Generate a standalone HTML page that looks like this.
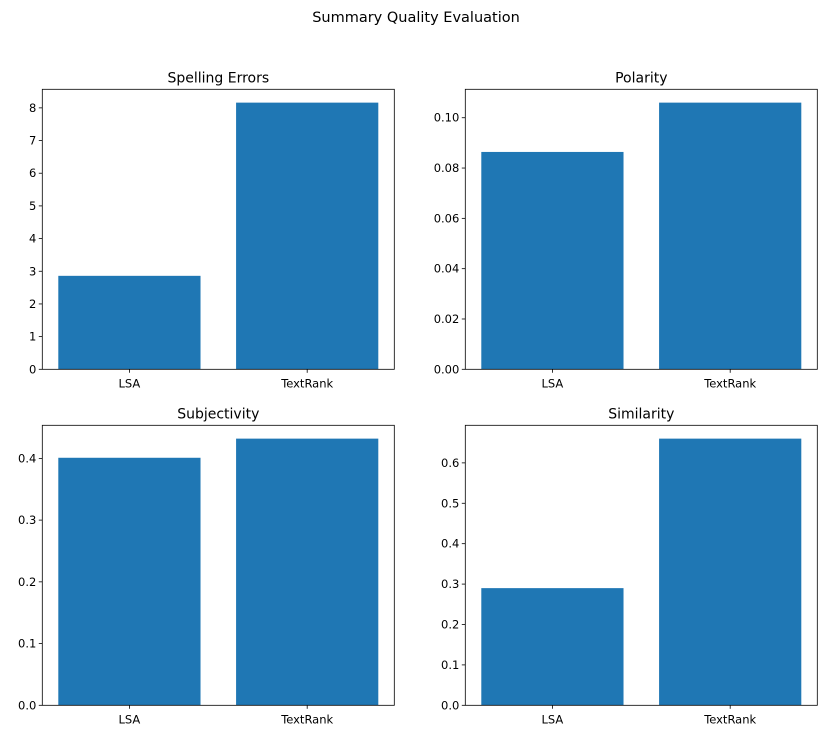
<!DOCTYPE html>
<html><head><meta charset="utf-8"><style>
body{margin:0;background:#fff;}
svg{display:block;font-family:"DejaVu Sans","Liberation Sans",sans-serif;}
</style></head><body>
<svg id="fig" width="826" height="739">
<text x="416" y="22" text-anchor="middle" font-size="14.5">Summary Quality Evaluation</text>
</svg>
<script>
const categories = ["LSA", "TextRank"];
const titles = ["Spelling Errors", "Polarity", "Subjectivity", "Similarity"];
const spellingValues = [2.86, 8.16];
const polarityValues = [0.0864, 0.106];
const subjectivityValues = [0.401, 0.432];
const similarityValues = [0.29, 0.66];
const spellingTicks = ["0","1","2","3","4","5","6","7","8"];
const polarityTicks = ["0.00","0.02","0.04","0.06","0.08","0.10"];
const subjectivityTicks = ["0.0","0.1","0.2","0.3","0.4"];
const similarityTicks = ["0.0","0.1","0.2","0.3","0.4","0.5","0.6"];

const NS = "http://www.w3.org/2000/svg";
const svg = document.getElementById("fig");
function mk(tag, attrs, parent){const e=document.createElementNS(NS,tag);for(const k in attrs)e.setAttribute(k,attrs[k]);(parent||svg).appendChild(e);return e;}

const panels = [
 {vals:spellingValues, ticks:spellingTicks, L:42.3, R:394.3, T:89.3, B:369.3, name:"spelling-errors"},
 {vals:polarityValues, ticks:polarityTicks, L:465.3, R:817.3, T:89.3, B:369.3, name:"polarity"},
 {vals:subjectivityValues, ticks:subjectivityTicks, L:42.3, R:394.3, T:425.3, B:705.3, name:"subjectivity"},
 {vals:similarityValues, ticks:similarityTicks, L:465.3, R:817.3, T:425.3, B:705.3, name:"similarity"}
];

panels.forEach((p, i) => {
  const g = mk("g", {});
  
  
  const ymax = Math.max(...p.vals) * 1.05;
  const y = v => p.B - (v / ymax) * (p.B - p.T);
  const xmin = -0.49, xmax = 1.49;
  const x = v => p.L + (v - xmin) / (xmax - xmin) * (p.R - p.L);
  p.vals.forEach((v, j) => {
    const r = mk("rect", {x:x(j-0.4), y:y(v), width:x(j+0.4)-x(j-0.4), height:p.B-y(v), fill:"#1f77b4"}, g);
    
    
    mk("line", {x1:x(j), x2:x(j), y1:p.B, y2:p.B+3.5, stroke:"#000", "stroke-width":0.8}, g);
    const t = mk("text", {x:x(j), y:p.B+18, "text-anchor":"middle", "font-size":"11.5"}, g);
    t.textContent = categories[j];
    
    
  });
  p.ticks.forEach(s => {
    const v = parseFloat(s), yy = y(v);
    mk("line", {x1:p.L-3.5, x2:p.L, y1:yy, y2:yy, stroke:"#000", "stroke-width":0.8}, g);
    const t = mk("text", {x:p.L-6, y:yy+4, "text-anchor":"end", "font-size":"11.5"}, g);
    t.textContent = s;
    
    
  });
  const frame = mk("rect", {x:p.L, y:p.T, width:p.R-p.L, height:p.B-p.T, fill:"none", stroke:"#000", "stroke-width":0.8}, g);
  
  
  const tt = mk("text", {x:(p.L+p.R)/2, y:p.T-7, "text-anchor":"middle", "font-size":"14"}, g);
  tt.textContent = titles[i];
  
  
});
</script>
</body></html>
